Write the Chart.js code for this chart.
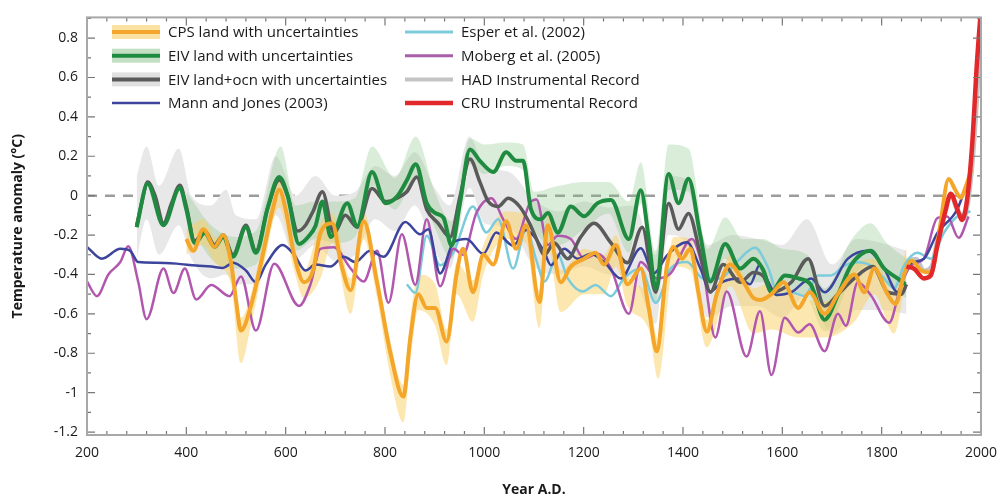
<!DOCTYPE html>
<html>
<head>
<meta charset="utf-8">
<script src="https://cdn.jsdelivr.net/npm/chart.js@4.4.1/dist/chart.umd.min.js"></script>
<style>
  html, body { margin: 0; padding: 0; background: #fff; }
</style>
</head>
<body>
<canvas id="chart" width="1007" height="503"></canvas>
<script>
// tick labels
const xTicks = [200, 400, 600, 800, 1000, 1200, 1400, 1600, 1800, 2000];
const yTicks = [-1.2, -1, -0.8, -0.6, -0.4, -0.2, 0, 0.2, 0.4, 0.6, 0.8];

// CPS land (orange)
const cpsYears = [400, 414, 434, 457, 474, 490, 500, 510, 530, 554, 574, 587, 600, 617, 637, 655, 670, 694, 712, 731, 757, 784, 811, 837, 851, 867, 884, 901, 924, 944, 957, 977, 998, 1018, 1044, 1064, 1084, 1111, 1128, 1154, 1174, 1201, 1224, 1241, 1265, 1288, 1315, 1331, 1347, 1368, 1381, 1398, 1415, 1431, 1448, 1468, 1495, 1522, 1542, 1555, 1578, 1602, 1632, 1655, 1685, 1712, 1745, 1765, 1785, 1812, 1828, 1845, 1860, 1880, 1900, 1915, 1935, 1948, 1959, 1970, 1980];
const cpsVals = [-0.22, -0.28, -0.17, -0.26, -0.20, -0.34, -0.53, -0.685, -0.56, -0.30, -0.07, 0.03, -0.07, -0.30, -0.44, -0.38, -0.19, -0.14, -0.35, -0.48, -0.13, -0.44, -0.80, -1.02, -0.72, -0.50, -0.57, -0.57, -0.74, -0.40, -0.27, -0.49, -0.30, -0.35, -0.13, -0.27, -0.15, -0.54, -0.15, -0.44, -0.36, -0.32, -0.29, -0.35, -0.25, -0.45, -0.37, -0.57, -0.79, -0.35, -0.26, -0.32, -0.27, -0.49, -0.69, -0.50, -0.35, -0.44, -0.52, -0.53, -0.50, -0.44, -0.57, -0.49, -0.60, -0.50, -0.40, -0.49, -0.37, -0.50, -0.55, -0.40, -0.33, -0.38, -0.39, -0.20, 0.085, 0.03, -0.01, 0.05, 0.13];
const cpsBandYears = [400, 434, 457, 490, 510, 530, 554, 587, 617, 637, 670, 694, 731, 757, 784, 811, 837, 851, 867, 901, 924, 944, 977, 998, 1044, 1084, 1111, 1128, 1154, 1201, 1241, 1265, 1288, 1331, 1350, 1381, 1415, 1448, 1495, 1542, 1578, 1632, 1685, 1745, 1785, 1825, 1850];
const cpsBandHigh = [-0.17, -0.12, -0.21, -0.29, -0.62, -0.50, -0.24, 0.08, -0.25, -0.38, -0.14, -0.09, -0.42, -0.08, -0.38, -0.74, -0.96, -0.62, -0.40, -0.45, -0.68, -0.34, -0.43, -0.25, -0.08, -0.10, -0.48, -0.10, -0.38, -0.27, -0.30, -0.20, -0.40, -0.52, -0.73, -0.21, -0.22, -0.63, -0.30, -0.47, -0.44, -0.51, -0.54, -0.35, -0.32, -0.49, -0.26];
const cpsBandLow = [-0.30, -0.25, -0.34, -0.45, -0.85, -0.66, -0.38, -0.06, -0.38, -0.52, -0.42, -0.24, -0.60, -0.22, -0.52, -0.92, -1.15, -0.84, -0.58, -0.66, -0.86, -0.50, -0.64, -0.40, -0.22, -0.24, -0.67, -0.26, -0.59, -0.50, -0.50, -0.36, -0.56, -0.68, -0.93, -0.36, -0.38, -0.77, -0.46, -0.70, -0.68, -0.72, -0.72, -0.64, -0.50, -0.70, -0.40];

// EIV land (green)
const eivYears = [300, 322, 354, 387, 400, 417, 437, 457, 474, 494, 520, 540, 564, 587, 604, 627, 647, 660, 674, 691, 724, 744, 774, 801, 824, 844, 862, 884, 901, 918, 934, 951, 971, 991, 1018, 1044, 1064, 1078, 1094, 1114, 1128, 1148, 1174, 1201, 1228, 1255, 1291, 1315, 1331, 1345, 1371, 1391, 1411, 1435, 1455, 1485, 1515, 1542, 1562, 1578, 1605, 1632, 1658, 1685, 1712, 1738, 1778, 1805, 1832, 1848];
const eivVals = [-0.16, 0.06, -0.15, 0.04, -0.07, -0.24, -0.19, -0.26, -0.21, -0.31, -0.16, -0.29, -0.06, 0.095, 0.0, -0.245, -0.204, -0.154, -0.03, -0.21, -0.038, -0.154, 0.12, -0.038, -0.005, 0.078, 0.16, -0.038, -0.088, -0.113, -0.254, -0.038, 0.235, 0.177, 0.12, 0.22, 0.177, 0.177, -0.07, -0.12, -0.088, -0.187, -0.055, -0.104, -0.038, -0.022, -0.22, 0.028, -0.22, -0.47, 0.11, -0.038, 0.086, -0.204, -0.436, -0.245, -0.37, -0.32, -0.38, -0.49, -0.405, -0.42, -0.454, -0.63, -0.504, -0.355, -0.28, -0.37, -0.42, -0.45];
const eivBandYears = [400, 450, 500, 540, 590, 620, 660, 700, 740, 774, 820, 862, 900, 934, 971, 1000, 1044, 1078, 1100, 1150, 1200, 1250, 1291, 1315, 1345, 1371, 1411, 1450, 1485, 1520, 1560, 1600, 1650, 1685, 1740, 1778, 1810, 1850];
const eivBandHigh = [0.02, -0.15, -0.21, -0.18, 0.25, -0.05, -0.03, -0.03, -0.01, 0.25, 0.09, 0.30, 0.02, -0.13, 0.29, 0.26, 0.27, 0.26, 0.02, 0.05, 0.07, 0.07, -0.03, 0.17, -0.28, 0.26, 0.24, -0.27, -0.11, -0.22, -0.22, -0.27, -0.30, -0.47, -0.22, -0.14, -0.24, -0.32];
const eivBandLow = [-0.12, -0.32, -0.37, -0.35, 0.03, -0.28, -0.22, -0.24, -0.21, 0.05, -0.07, 0.09, -0.16, -0.32, 0.16, 0.11, 0.15, 0.13, -0.17, -0.25, -0.17, -0.09, -0.29, -0.04, -0.54, 0.03, 0.02, -0.47, -0.32, -0.44, -0.44, -0.48, -0.52, -0.69, -0.42, -0.35, -0.45, -0.52];

// EIV land+ocn (dark grey)
const ocnYears = [300, 310, 322, 337, 354, 370, 387, 400, 417, 437, 457, 474, 494, 520, 540, 564, 587, 604, 624, 640, 655, 674, 697, 720, 744, 774, 801, 824, 844, 864, 884, 907, 931, 951, 971, 991, 1008, 1028, 1048, 1071, 1091, 1105, 1121, 1141, 1168, 1194, 1221, 1255, 1288, 1318, 1345, 1371, 1391, 1411, 1435, 1455, 1481, 1515, 1542, 1562, 1578, 1618, 1652, 1685, 1712, 1745, 1782, 1812, 1840, 1850];
const ocnVals = [-0.15, -0.04, 0.07, 0.0, -0.14, -0.04, 0.053, -0.055, -0.23, -0.18, -0.25, -0.20, -0.30, -0.15, -0.28, -0.06, 0.08, 0.0, -0.18, -0.15, -0.08, 0.02, -0.19, -0.10, -0.16, 0.036, -0.03, -0.013, 0.02, 0.095, -0.07, -0.14, -0.21, -0.005, 0.186, 0.07, -0.03, -0.055, -0.013, -0.055, -0.14, -0.22, -0.30, -0.24, -0.32, -0.21, -0.14, -0.24, -0.34, -0.16, -0.49, -0.04, -0.17, -0.09, -0.30, -0.49, -0.35, -0.44, -0.39, -0.41, -0.49, -0.44, -0.32, -0.56, -0.50, -0.42, -0.36, -0.49, -0.50, -0.45];
const ocnBandYears = [300, 320, 345, 385, 410, 450, 480, 500, 540, 580, 620, 660, 700, 740, 780, 820, 860, 900, 930, 970, 1000, 1050, 1100, 1150, 1200, 1250, 1300, 1345, 1370, 1410, 1450, 1500, 1550, 1600, 1650, 1700, 1750, 1800, 1850];
const ocnBandHigh = [0.10, 0.25, 0.05, 0.24, 0.0, -0.05, 0.03, -0.10, -0.12, 0.20, 0.0, 0.10, 0.0, 0.02, 0.15, 0.10, 0.22, 0.04, -0.05, 0.30, 0.15, 0.12, -0.02, -0.08, -0.03, -0.06, -0.05, -0.30, 0.10, 0.08, -0.25, -0.20, -0.22, -0.25, -0.12, -0.35, -0.22, -0.24, -0.28];
const ocnBandLow = [-0.32, -0.12, -0.30, -0.15, -0.32, -0.42, -0.40, -0.45, -0.45, -0.10, -0.32, -0.25, -0.33, -0.30, -0.12, -0.18, -0.05, -0.28, -0.37, 0.04, -0.14, -0.16, -0.36, -0.40, -0.36, -0.40, -0.42, -0.65, -0.20, -0.25, -0.62, -0.56, -0.56, -0.62, -0.50, -0.70, -0.58, -0.58, -0.60];

// Mann and Jones (2003)
const mannYears = [200, 230, 267, 287, 303, 340, 380, 420, 450, 474, 494, 520, 540, 560, 594, 617, 640, 660, 690, 717, 740, 770, 797, 841, 871, 887, 911, 938, 964, 998, 1024, 1058, 1084, 1101, 1121, 1134, 1161, 1188, 1214, 1241, 1275, 1315, 1341, 1368, 1408, 1435, 1455, 1481, 1515, 1535, 1555, 1572, 1588, 1618, 1658, 1685, 1732, 1772, 1805, 1832, 1852, 1885, 1912, 1952, 1975];
const mannVals = [-0.26, -0.32, -0.27, -0.28, -0.337, -0.34, -0.345, -0.355, -0.36, -0.367, -0.34, -0.38, -0.44, -0.35, -0.25, -0.30, -0.38, -0.35, -0.36, -0.31, -0.337, -0.28, -0.31, -0.134, -0.196, -0.17, -0.395, -0.237, -0.22, -0.295, -0.187, -0.254, -0.174, -0.21, -0.287, -0.353, -0.27, -0.32, -0.295, -0.337, -0.42, -0.267, -0.395, -0.303, -0.237, -0.37, -0.486, -0.436, -0.42, -0.45, -0.35, -0.438, -0.504, -0.49, -0.42, -0.49, -0.32, -0.28, -0.37, -0.49, -0.355, -0.32, -0.19, -0.07, 0.085];

// Esper et al. (2002)
const esperYears = [844, 861, 884, 911, 938, 977, 1004, 1028, 1058, 1084, 1105, 1121, 1148, 1168, 1198, 1224, 1255, 1281, 1315, 1345, 1375, 1408, 1441, 1475, 1508, 1545, 1572, 1592, 1618, 1645, 1672, 1698, 1725, 1752, 1778, 1805, 1825, 1845, 1872, 1899, 1925, 1952, 1979];
const esperVals = [-0.45, -0.494, -0.204, -0.353, -0.287, -0.055, -0.187, -0.12, -0.37, -0.17, -0.33, -0.436, -0.30, -0.42, -0.486, -0.453, -0.51, -0.42, -0.37, -0.544, -0.37, -0.337, -0.42, -0.42, -0.337, -0.265, -0.37, -0.504, -0.49, -0.51, -0.405, -0.405, -0.355, -0.338, -0.355, -0.42, -0.47, -0.355, -0.29, -0.32, -0.19, -0.106, -0.08];

// Moberg et al. (2005)
const mobergYears = [200, 220, 243, 267, 283, 303, 320, 354, 374, 397, 420, 450, 487, 510, 540, 577, 627, 650, 670, 697, 731, 757, 784, 807, 834, 861, 884, 911, 938, 957, 984, 1014, 1038, 1064, 1091, 1105, 1128, 1148, 1174, 1201, 1228, 1255, 1291, 1315, 1348, 1375, 1418, 1441, 1465, 1488, 1528, 1555, 1578, 1605, 1632, 1655, 1685, 1712, 1728, 1752, 1778, 1815, 1839, 1859, 1885, 1912, 1932, 1955, 1975];
const mobergVals = [-0.436, -0.51, -0.40, -0.337, -0.257, -0.436, -0.627, -0.37, -0.494, -0.37, -0.527, -0.453, -0.51, -0.41, -0.685, -0.345, -0.56, -0.45, -0.27, -0.262, -0.37, -0.436, -0.28, -0.544, -0.196, -0.453, -0.12, -0.46, -0.27, -0.30, -0.088, -0.013, -0.12, -0.22, -0.04, -0.02, -0.25, -0.204, -0.22, -0.32, -0.295, -0.37, -0.60, -0.337, -0.42, -0.395, -0.22, -0.386, -0.72, -0.486, -0.817, -0.587, -0.91, -0.62, -0.695, -0.653, -0.79, -0.60, -0.66, -0.44, -0.504, -0.645, -0.454, -0.355, -0.32, -0.114, -0.106, -0.214, -0.106];

// HAD instrumental record
const hadYears = [1850, 1870, 1885, 1900, 1912, 1929, 1940, 1952, 1965, 1975, 1985, 1995, 2000];
const hadVals = [-0.33, -0.32, -0.38, -0.36, -0.22, -0.05, 0.0, -0.08, -0.12, -0.02, 0.22, 0.62, 0.92];

// CRU instrumental record
const cruYears = [1850, 1865, 1885, 1899, 1912, 1929, 1939, 1952, 1962, 1972, 1982, 1992, 2000];
const cruVals = [-0.36, -0.37, -0.42, -0.405, -0.255, -0.073, 0.01, -0.065, -0.123, -0.02, 0.25, 0.68, 0.95];

const pts = (xs, ys) => xs.map((x, i) => ({ x: x, y: ys[i] }));

function line(label, xs, ys, color, width, order) {
  return {
    label: label, data: pts(xs, ys), borderColor: color, borderWidth: width,
    pointRadius: 0, fill: false, cubicInterpolationMode: 'monotone', order: order, clip: 0
  };
}
function bandLow(xs, ys, order) {
  return { label: '', data: pts(xs, ys), borderWidth: 0, borderColor: 'rgba(0,0,0,0)',
    pointRadius: 0, fill: false, cubicInterpolationMode: 'monotone', order: order, clip: 0 };
}
function bandHigh(xs, ys, color, order) {
  return { label: '', data: pts(xs, ys), borderWidth: 0, borderColor: 'rgba(0,0,0,0)',
    backgroundColor: color, pointRadius: 0, fill: '-1', cubicInterpolationMode: 'monotone', order: order, clip: 0 };
}

const legendItems = [
  { col: 0, row: 0, text: 'CPS land with uncertainties', line: '#f4a62a', band: '#fbe1a2', w: 4 },
  { col: 0, row: 1, text: 'EIV land with uncertainties', line: '#1f8b40', band: '#c4e0c4', w: 4 },
  { col: 0, row: 2, text: 'EIV land+ocn with uncertainties', line: '#5a5a5a', band: '#e0e0e0', w: 4 },
  { col: 0, row: 3, text: 'Mann and Jones (2003)', line: '#3d449c', band: null, w: 2.5 },
  { col: 1, row: 0, text: 'Esper et al. (2002)', line: '#7ccbdb', band: null, w: 3 },
  { col: 1, row: 1, text: 'Moberg et al. (2005)', line: '#a861a8', band: null, w: 3 },
  { col: 1, row: 2, text: 'HAD Instrumental Record', line: '#c4c4c4', band: null, w: 4 },
  { col: 1, row: 3, text: 'CRU Instrumental Record', line: '#e2282a', band: null, w: 4.5 }
];

const decor = {
  id: 'decor',
  beforeDatasetsDraw(chart) {
    const { ctx, chartArea: a, scales: { y } } = chart;
    const y0 = y.getPixelForValue(0);
    ctx.save();
    ctx.strokeStyle = '#9c9c9c';
    ctx.lineWidth = 2.5;
    ctx.setLineDash([10, 8]);
    ctx.beginPath();
    ctx.moveTo(a.left, y0);
    ctx.lineTo(a.right, y0);
    ctx.stroke();
    ctx.restore();
  },
  afterDraw(chart) {
    const { ctx, chartArea: a, scales: { x, y } } = chart;
    ctx.save();
    // ticks inside the frame, all four sides
    ctx.strokeStyle = '#777';
    ctx.lineWidth = 1.2;
    ctx.beginPath();
    for (let yr = 200; yr <= 2000; yr += 40) {
      const px = x.getPixelForValue(yr);
      const len = xTicks.includes(yr) ? 8 : 4;
      ctx.moveTo(px, a.bottom); ctx.lineTo(px, a.bottom - len);
      ctx.moveTo(px, a.top); ctx.lineTo(px, a.top + len);
    }
    for (let k = -12; k <= 9; k++) {
      const py = y.getPixelForValue(k / 10);
      const len = k % 2 === 0 ? 8 : 4;
      ctx.moveTo(a.left, py); ctx.lineTo(a.left + len, py);
      ctx.moveTo(a.right, py); ctx.lineTo(a.right - len, py);
    }
    ctx.stroke();
    // frame
    ctx.strokeStyle = '#a8a8a8';
    ctx.lineWidth = 2;
    ctx.strokeRect(a.left, a.top, a.right - a.left, a.bottom - a.top);

    // legend
    const colX = [112, 405];
    ctx.font = '15px "Open Sans"';
    ctx.textBaseline = 'middle';
    legendItems.forEach(it => {
      const x0 = colX[it.col];
      const cy = 32 + it.row * 23.7;
      if (it.band) {
        ctx.fillStyle = it.band;
        ctx.fillRect(x0, cy - 7, 48, 14);
      }
      ctx.strokeStyle = it.line;
      ctx.lineWidth = it.w;
      ctx.beginPath();
      ctx.moveTo(x0, cy);
      ctx.lineTo(x0 + 48, cy);
      ctx.stroke();
      ctx.fillStyle = '#1a1a1a';
      ctx.fillText(it.text, x0 + 56, cy + 1);
    });
    ctx.restore();
  }
};

const ctx = document.getElementById('chart').getContext('2d');
const chart = new Chart(ctx, {
  type: 'line',
  data: {
    datasets: [
      bandLow(ocnBandYears, ocnBandLow, 20),
      bandHigh(ocnBandYears, ocnBandHigh, '#e8e8e8', 20),
      bandLow(eivBandYears, eivBandLow, 19),
      bandHigh(eivBandYears, eivBandHigh, 'rgba(130, 195, 130, 0.3)', 19),
      bandLow(cpsBandYears, cpsBandLow, 18),
      bandHigh(cpsBandYears, cpsBandHigh, 'rgba(252, 208, 100, 0.5)', 18),
      line('HAD Instrumental Record', hadYears, hadVals, '#c4c4c4', 4, 9),
      line('Esper et al. (2002)', esperYears, esperVals, '#7ccbdb', 2.5, 8),
      line('Moberg et al. (2005)', mobergYears, mobergVals, '#b157ae', 2.5, 7),
      line('Mann and Jones (2003)', mannYears, mannVals, '#3d449c', 2.5, 6),
      line('EIV land+ocn with uncertainties', ocnYears, ocnVals, '#5a5a5a', 3.5, 5),
      line('EIV land with uncertainties', eivYears, eivVals, '#1f8b40', 4, 4),
      line('CPS land with uncertainties', cpsYears, cpsVals, '#f4a62a', 4, 3),
      line('CRU Instrumental Record', cruYears, cruVals, '#e2282a', 4.5, 1)
    ]
  },
  options: {
    responsive: false,
    animation: false,
    devicePixelRatio: 1,
    layout: { padding: { left: 0, right: 21, top: 10, bottom: 0 } },
    plugins: { legend: { display: false }, tooltip: { enabled: false } },
    scales: {
      x: {
        type: 'linear', min: 200, max: 2000,
        grid: { display: false, drawTicks: false },
        border: { display: false },
        afterBuildTicks: s => { s.ticks = xTicks.map(v => ({ value: v })); },
        afterFit: s => { s.height = 68; },
        ticks: { font: { family: 'Open Sans', size: 14 }, color: '#1a1a1a', padding: 10, maxRotation: 0,
          callback: v => String(v) },
        title: { display: true, text: 'Year A.D.', font: { family: 'Open Sans', size: 14, weight: 'bold' },
          color: '#1a1a1a', padding: { bottom: 5 } }
      },
      y: {
        min: -1.215, max: 0.905,
        grid: { display: false, drawTicks: false },
        border: { display: false },
        afterBuildTicks: s => { s.ticks = yTicks.map(v => ({ value: v })); },
        afterFit: s => { s.width = 87; },
        ticks: { font: { family: 'Open Sans', size: 14 }, color: '#1a1a1a', padding: 9,
          callback: v => String(Math.round(v * 10) / 10) },
        title: { display: true, text: 'Temperature anomaly (°C)', font: { family: 'Open Sans', size: 14, weight: 'bold' },
          color: '#1a1a1a', padding: { top: 10 } }
      }
    }
  },
  plugins: [decor]
});
</script>
</body>
</html>
